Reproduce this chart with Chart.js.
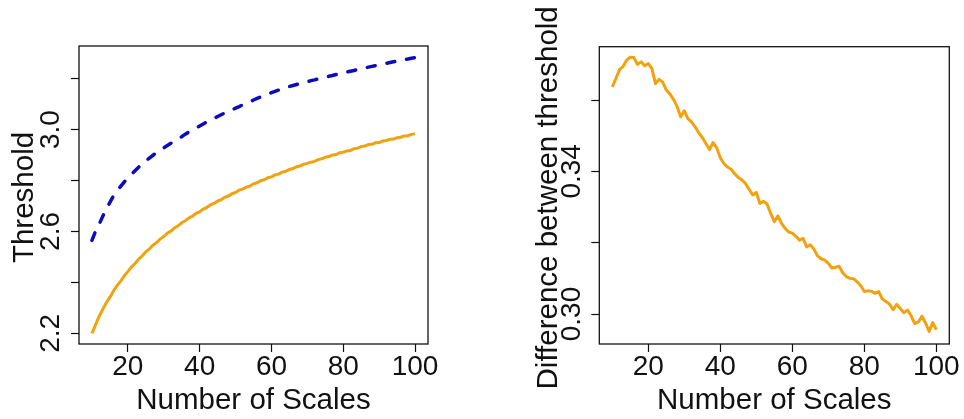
<!DOCTYPE html>
<html>
<head>
<meta charset="utf-8">
<script src="https://cdn.jsdelivr.net/npm/chart.js@4.4.1/dist/chart.umd.min.js"></script>
<style>
  html, body { margin: 0; padding: 0; background: #ffffff; }
  #wrap { position: relative; width: 964px; height: 419px; overflow: hidden; background: #ffffff; }
  canvas { position: absolute; top: 0; }
  #left { left: 0; }
  #right { left: 482px; }
</style>
</head>
<body>
<div id="wrap">
  <canvas id="left" width="482" height="419"></canvas>
  <canvas id="right" width="482" height="419"></canvas>
</div>
<script>
// Number of scales on the horizontal axis
const scales = [
  10, 11, 12, 13, 14, 15, 16, 17, 18, 19,
  20, 21, 22, 23, 24, 25, 26, 27, 28, 29,
  30, 31, 32, 33, 34, 35, 36, 37, 38, 39,
  40, 41, 42, 43, 44, 45, 46, 47, 48, 49,
  50, 51, 52, 53, 54, 55, 56, 57, 58, 59,
  60, 61, 62, 63, 64, 65, 66, 67, 68, 69,
  70, 71, 72, 73, 74, 75, 76, 77, 78, 79,
  80, 81, 82, 83, 84, 85, 86, 87, 88, 89,
  90, 91, 92, 93, 94, 95, 96, 97, 98, 99,
  100
];

// Lower threshold (solid orange)
const thresholdLower = [
  2.200, 2.233, 2.266, 2.294, 2.320, 2.342, 2.366, 2.387, 2.405, 2.425,
  2.442, 2.460, 2.474, 2.491, 2.504, 2.520, 2.531, 2.546, 2.556, 2.570,
  2.580, 2.593, 2.601, 2.614, 2.622, 2.634, 2.642, 2.653, 2.660, 2.671,
  2.677, 2.688, 2.694, 2.704, 2.710, 2.719, 2.725, 2.734, 2.739, 2.748,
  2.753, 2.762, 2.766, 2.774, 2.778, 2.787, 2.791, 2.799, 2.803, 2.811,
  2.814, 2.822, 2.825, 2.833, 2.836, 2.843, 2.847, 2.854, 2.857, 2.864,
  2.867, 2.872, 2.875, 2.882, 2.885, 2.891, 2.894, 2.900, 2.902, 2.909,
  2.911, 2.916, 2.918, 2.925, 2.927, 2.933, 2.935, 2.941, 2.942, 2.948,
  2.949, 2.955, 2.957, 2.962, 2.963, 2.968, 2.970, 2.975, 2.976, 2.981,
  2.983
];

// Upper threshold (dashed blue)
const thresholdUpper = [
  2.565, 2.600, 2.628, 2.659, 2.688, 2.714, 2.739, 2.759, 2.777, 2.794,
  2.809, 2.824, 2.838, 2.852, 2.865, 2.877, 2.888, 2.899, 2.909, 2.919,
  2.928, 2.937, 2.946, 2.955, 2.964, 2.972, 2.982, 2.990, 2.998, 3.006,
  3.014, 3.022, 3.030, 3.037, 3.044, 3.051, 3.058, 3.065, 3.072, 3.078,
  3.084, 3.090, 3.097, 3.103, 3.109, 3.116, 3.122, 3.128, 3.133, 3.139,
  3.145, 3.150, 3.155, 3.160, 3.165, 3.169, 3.173, 3.177, 3.181, 3.185,
  3.188, 3.192, 3.195, 3.199, 3.202, 3.206, 3.209, 3.212, 3.216, 3.219,
  3.222, 3.226, 3.229, 3.232, 3.236, 3.239, 3.242, 3.245, 3.248, 3.251,
  3.254, 3.257, 3.260, 3.263, 3.266, 3.269, 3.272, 3.275, 3.277, 3.280,
  3.282
];

// Difference between the two thresholds
const thresholdDiff = [
  0.3637, 0.3660, 0.3685, 0.3694, 0.3712, 0.3720, 0.3719, 0.3700, 0.3707, 0.3696,
  0.3702, 0.3688, 0.3646, 0.3658, 0.3650, 0.3628, 0.3617, 0.3602, 0.3582, 0.3553,
  0.3570, 0.3548, 0.3539, 0.3525, 0.3508, 0.3495, 0.3478, 0.3461, 0.3481, 0.3466,
  0.3438, 0.3422, 0.3412, 0.3406, 0.3393, 0.3383, 0.3376, 0.3366, 0.3350, 0.3334,
  0.3341, 0.3310, 0.3316, 0.3308, 0.3282, 0.3259, 0.3275, 0.3254, 0.3240, 0.3230,
  0.3227, 0.3218, 0.3207, 0.3212, 0.3188, 0.3194, 0.3182, 0.3163, 0.3155, 0.3151,
  0.3142, 0.3129, 0.3131, 0.3134, 0.3116, 0.3105, 0.3100, 0.3099, 0.3090, 0.3080,
  0.3063, 0.3065, 0.3064, 0.3058, 0.3063, 0.3042, 0.3035, 0.3028, 0.3012, 0.3027,
  0.3015, 0.3004, 0.3011, 0.2995, 0.2973, 0.2978, 0.2994, 0.2975, 0.2951, 0.2976,
  0.2956
];

// Axis ticks and which of them carry a label
const xTicks = [20, 40, 60, 80, 100];
const leftYTicks = [2.2, 2.4, 2.6, 2.8, 3.0, 3.2];
const leftYLabels = [2.2, 2.6, 3.0];
const rightYTicks = [0.30, 0.32, 0.34, 0.36];
const rightYLabels = [0.30, 0.34];

const xTitle = 'Number of Scales';
const leftYTitle = 'Threshold';
const rightYTitle = 'Difference between threshold';

const FONT = "'Liberation Sans', Arial, sans-serif";
const ORANGE = '#f2a20f';
const BLUE = '#0c0cbf';

function points(ys) {
  return scales.map((x, i) => ({ x: x, y: ys[i] }));
}

// Frame around the plotting region and the rotated y-axis title
const framePlugin = {
  id: 'frame',
  afterDraw(chart, args, opts) {
    const { ctx, chartArea: a } = chart;
    ctx.save();
    ctx.strokeStyle = '#111111';
    ctx.lineWidth = 1.3;
    ctx.strokeRect(a.left, a.top, a.right - a.left, a.bottom - a.top);
    ctx.restore();

    ctx.save();
    ctx.fillStyle = '#111111';
    ctx.font = '29.5px ' + FONT;
    ctx.textAlign = 'center';
    ctx.textBaseline = 'alphabetic';
    ctx.translate(opts.baselineX, (a.top + a.bottom) / 2 + 2.5);
    ctx.rotate(-Math.PI / 2);
    ctx.fillText(opts.text, 0, 0);
    ctx.restore();
  }
};

function labelCallback(labels, digits) {
  return function (value) {
    const hit = labels.some(v => Math.abs(v - value) < 1e-9);
    return hit ? Number(value).toFixed(digits) : '';
  };
}

function makeOptions(cfg) {
  return {
    responsive: false,
    animation: false,
    events: [],
    layout: { padding: { top: cfg.top, right: cfg.right, left: 0, bottom: 0 } },
    plugins: {
      legend: { display: false },
      tooltip: { enabled: false },
      frame: { text: cfg.yTitle, baselineX: cfg.titleX }
    },
    scales: {
      x: {
        type: 'linear',
        min: 6.4,
        max: 103.6,
        afterBuildTicks(scale) { scale.ticks = xTicks.map(v => ({ value: v })); },
        afterFit(scale) { scale.height = 75; },
        border: { display: false },
        grid: {
          drawOnChartArea: false,
          drawTicks: true,
          tickLength: 8,
          tickColor: '#111111',
          tickWidth: 1.2
        },
        ticks: {
          color: '#111111',
          font: { family: FONT, size: 28, lineHeight: 1 },
          padding: 1,
          maxRotation: 0,
          minRotation: 0,
          autoSkip: false,
          callback: v => String(v)
        },
        title: {
          display: true,
          text: xTitle,
          color: '#111111',
          font: { family: FONT, size: 29.5, lineHeight: 1 },
          padding: { top: 0, bottom: 3 }
        }
      },
      y: {
        type: 'linear',
        min: cfg.yMin,
        max: cfg.yMax,
        afterBuildTicks(scale) { scale.ticks = cfg.yTicks.map(v => ({ value: v })); },
        afterFit(scale) { scale.width = cfg.yWidth; },
        border: { display: false },
        grid: {
          drawOnChartArea: false,
          drawTicks: true,
          tickLength: 8,
          tickColor: '#111111',
          tickWidth: 1.2
        },
        ticks: {
          color: '#111111',
          font: { family: FONT, size: 28, lineHeight: 1 },
          padding: cfg.yPad,
          minRotation: 90,
          maxRotation: 90,
          crossAlign: 'center',
          autoSkip: false,
          callback: labelCallback(cfg.yLabels, cfg.digits)
        },
        title: { display: false }
      }
    }
  };
}

new Chart(document.getElementById('left'), {
  type: 'line',
  data: {
    datasets: [
      {
        label: 'Upper',
        data: points(thresholdUpper),
        borderColor: BLUE,
        borderWidth: 3.5,
        borderDash: [8, 12],
        borderCapStyle: 'round',
        pointRadius: 0,
        tension: 0,
        fill: false
      },
      {
        label: 'Lower',
        data: points(thresholdLower),
        borderColor: ORANGE,
        borderWidth: 3,
        pointRadius: 0,
        tension: 0,
        fill: false
      }
    ]
  },
  options: makeOptions({
    top: 46, right: 54, yWidth: 79,
    yMin: 2.158, yMax: 3.328,
    yTicks: leftYTicks, yLabels: leftYLabels, yPad: 0, digits: 1,
    yTitle: leftYTitle, titleX: 33
  }),
  plugins: [framePlugin]
});

new Chart(document.getElementById('right'), {
  type: 'line',
  data: {
    datasets: [
      {
        label: 'Difference',
        data: points(thresholdDiff),
        borderColor: ORANGE,
        borderWidth: 3,
        borderJoinStyle: 'round',
        pointRadius: 0,
        tension: 0,
        fill: false
      }
    ]
  },
  options: makeOptions({
    top: 46.7, right: 14.7, yWidth: 117.3,
    yMin: 0.2916, yMax: 0.37495,
    yTicks: rightYTicks, yLabels: rightYLabels, yPad: -8, digits: 2,
    yTitle: rightYTitle, titleX: 74.7
  }),
  plugins: [framePlugin]
});
</script>
</body>
</html>
